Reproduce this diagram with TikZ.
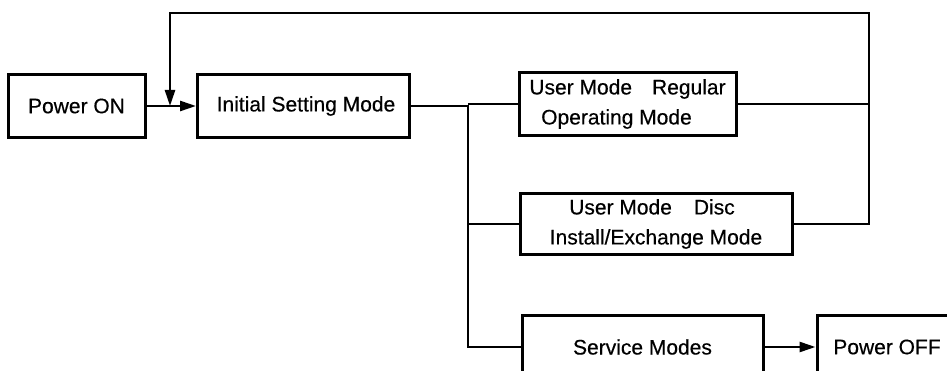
\documentclass[tikz,border=0pt]{standalone}
\usepackage{fontspec}
\setmainfont{Liberation Sans}
\newfontfamily\diagfont[FakeBold=0.4]{Liberation Sans}
\usetikzlibrary{arrows.meta,calc}
\begin{document}
\begin{tikzpicture}[x=1pt,y=-1pt,
  box/.style={draw,line width=3pt,inner sep=0pt,align=center,
    font=\diagfont\fontsize{21}{30}\selectfont},
  conn/.style={line width=2.5pt},
  arr/.style={conn,-{Triangle[length=16pt,width=10pt]}}]
\useasboundingbox (0,0) rectangle (947,371);
\clip (0,0) rectangle (947,371);
\node[box,minimum width=137pt,minimum height=63pt] (pon) at (76.5,106) {Power ON};
\node[box,minimum width=212pt,minimum height=63pt] (ism) at (303.5,106) {\hspace*{5pt}Initial Setting Mode};
\node[box,minimum width=217pt,minimum height=63pt] (reg) at (627.5,104) {User Mode\hspace{20pt}Regular\\Operating Mode\hspace*{22pt}};
\node[box,minimum width=272pt,minimum height=61pt] (disc) at (656,224) {User Mode\hspace{22pt}Disc\hspace*{8pt}\\Install/Exchange Mode};
\node[box,minimum width=241pt,minimum height=64pt] (svc) at (642.5,347) {Service Modes};
\node[box,minimum width=140pt,minimum height=64pt] (poff) at (887,347) {Power OFF};
\coordinate (jx) at (468,0);
\coordinate (rx) at (869,0);
\coordinate (top) at (170,13);
\coordinate (j1) at (170,106);
\draw[arr] (pon.east) -- (ism.west);
\draw[conn] (ism.east) -- (ism.east -| jx) |- (svc.west);
\draw[conn] (jx |- reg.west) -- (reg.west);
\draw[conn] (jx |- disc.west) -- (disc.west);
\draw[conn] (reg.east) -- (reg.east -| rx);
\draw[arr] (disc.east) -| (rx |- top) -- (top) -- (j1);
\draw[arr] (svc.east) -- (poff.west);
\end{tikzpicture}
\end{document}
